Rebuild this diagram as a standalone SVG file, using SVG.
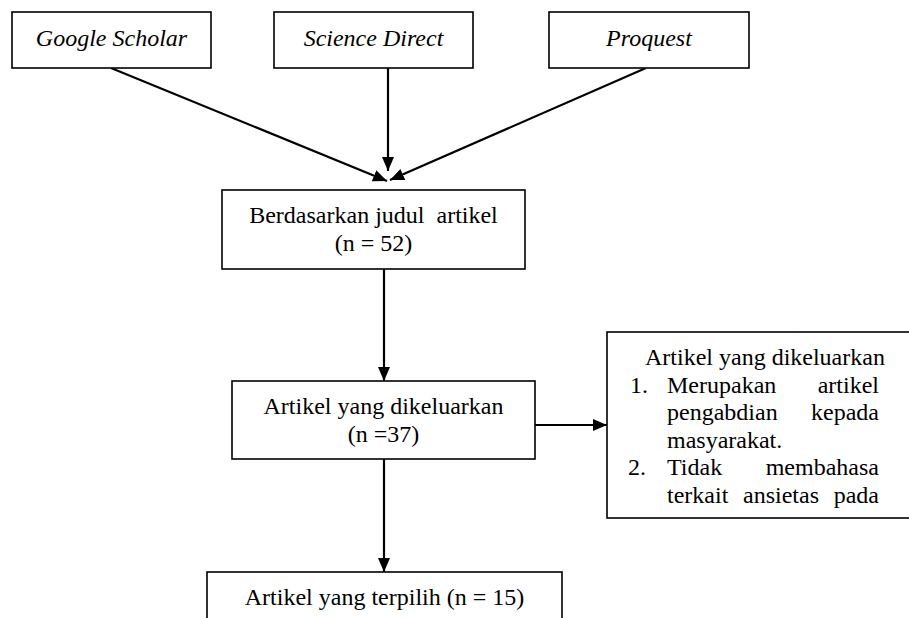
<svg xmlns="http://www.w3.org/2000/svg" width="909" height="618" viewBox="0 0 909 618">
<style>
  .box { fill: #ffffff; stroke: #000000; stroke-width: 1.6; }
  .t { font-family: 'Liberation Serif', 'DejaVu Serif', serif; font-size: 24px; fill: #000000; white-space: pre; }
  .i { font-style: italic; }
  .c { text-anchor: middle; }
  .e { text-anchor: end; }
  .conn { stroke: #000000; stroke-width: 2.2; fill: none; marker-end: url(#arr); }
</style>
<defs>
  <marker id="arr" markerUnits="userSpaceOnUse" markerWidth="14" markerHeight="14" refX="14" refY="7" orient="auto">
    <path d="M0,1 L14,7 L0,13 Z" fill="#000000"/>
  </marker>
</defs>
<rect width="909" height="618" fill="#ffffff"/>
<g id="connectors">
  <line class="conn" x1="111" y1="68" x2="387" y2="181"/>
  <line class="conn" x1="388" y1="68" x2="388" y2="171"/>
  <line class="conn" x1="646" y1="68" x2="390" y2="180"/>
  <line class="conn" x1="384" y1="269" x2="384" y2="381"/>
  <line class="conn" x1="535" y1="425" x2="607" y2="425"/>
  <line class="conn" x1="384" y1="459" x2="384" y2="572"/>
</g>
<g id="google-scholar">
  <rect class="box" x="12" y="12" width="199" height="56"/>
  <text class="t i c" font-family="Liberation Serif, serif" x="111.5" y="46">Google Scholar</text>
</g>
<g id="science-direct">
  <rect class="box" x="274" y="12" width="199" height="56"/>
  <text class="t i c" font-family="Liberation Serif, serif" x="373.5" y="46">Science Direct</text>
</g>
<g id="proquest">
  <rect class="box" x="549" y="12" width="200" height="56"/>
  <text class="t i c" font-family="Liberation Serif, serif" x="649" y="46">Proquest</text>
</g>
<g id="berdasarkan">
  <rect class="box" x="222" y="190" width="303" height="79"/>
  <text class="t c" font-family="Liberation Serif, serif" x="373.5" y="223">Berdasarkan judul  artikel</text>
  <text class="t c" font-family="Liberation Serif, serif" x="373.5" y="251">(n = 52)</text>
</g>
<g id="dikeluarkan">
  <rect class="box" x="232" y="381" width="303" height="78"/>
  <text class="t c" font-family="Liberation Serif, serif" x="383.5" y="414">Artikel yang dikeluarkan</text>
  <text class="t c" font-family="Liberation Serif, serif" x="383.5" y="442">(n =37)</text>
</g>
<g id="alasan" font-family="Liberation Serif, serif">
  <rect class="box" x="607" y="332" width="310" height="186"/>
  <text class="t" x="645" y="365">Artikel yang dikeluarkan</text>
  <text class="t" x="630" y="393">1.</text>
  <text class="t" x="667" y="393">Merupakan</text>
  <text class="t e" x="879" y="393">artikel</text>
  <text class="t" x="667" y="420">pengabdian</text>
  <text class="t e" x="879" y="420">kepada</text>
  <text class="t" x="667" y="448">masyarakat.</text>
  <text class="t" x="628" y="475">2.</text>
  <text class="t" x="667" y="475">Tidak</text>
  <text class="t e" x="879" y="475">membahasa</text>
  <text class="t" x="667" y="503">terkait</text>
  <text class="t" x="743" y="503">ansietas</text>
  <text class="t e" x="879" y="503">pada</text>
</g>
<g id="terpilih">
  <rect class="box" x="207" y="572" width="355" height="60"/>
  <text class="t c" font-family="Liberation Serif, serif" x="384.5" y="605">Artikel yang terpilih (n = 15)</text>
</g>
</svg>
